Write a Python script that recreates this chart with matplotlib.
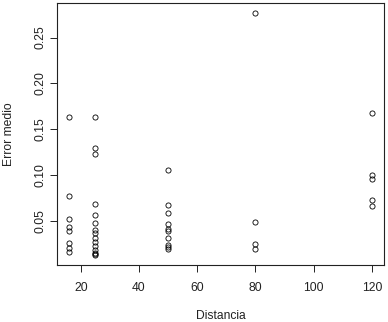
import matplotlib
matplotlib.use("Agg")
import matplotlib.pyplot as plt
import numpy as np

plt.rcParams['font.family'] = ['Liberation Sans', 'DejaVu Sans']

# Data
dist_16 = [0.164, 0.078, 0.053, 0.044, 0.039, 0.026, 0.021, 0.017]
dist_25 = [0.163, 0.130, 0.123, 0.069, 0.057, 0.048, 0.041, 0.037, 0.032,
           0.028, 0.023, 0.019, 0.016, 0.014, 0.013]
dist_50 = [0.106, 0.068, 0.059, 0.047, 0.042, 0.039, 0.032, 0.024, 0.022, 0.020]
dist_80 = [0.277, 0.049, 0.025, 0.020]
dist_120 = [0.168, 0.100, 0.096, 0.073, 0.067]

groups = {16: dist_16, 25: dist_25, 50: dist_50, 80: dist_80, 120: dist_120}
x = np.concatenate([[d] * len(v) for d, v in groups.items()])
y = np.concatenate([v for v in groups.values()])

xticks = [20, 40, 60, 80, 100, 120]
yticks = [0.05, 0.10, 0.15, 0.20, 0.25]
ytick_labels = ["0.05", "0.10", "0.15", "0.20", "0.25"]

fig = plt.figure(figsize=(3.88, 3.22), dpi=100)
ax = fig.add_axes([57 / 388, (322 - 265) / 322, (384 - 57) / 388, 262 / 322])

ax.plot(x, y, linestyle='none', marker='o', markersize=3.7,
        markerfacecolor='none', markeredgecolor='black', markeredgewidth=0.6)

xr = x.max() - x.min()
yr = y.max() - y.min()
ax.set_xlim(x.min() - 0.04 * xr, x.max() + 0.04 * xr)
ax.set_ylim(y.min() - 0.04 * yr, y.max() + 0.04 * yr)

ax.set_xticks(xticks)
ax.set_xticklabels([str(t) for t in xticks])
ax.set_yticks(yticks)
ax.set_yticklabels(ytick_labels, rotation=90, va='center')

ax.tick_params(axis='both', direction='out', length=5, width=0.7,
               labelsize=8.7, colors='#222222')
ax.tick_params(axis='x', pad=7)
ax.tick_params(axis='y', pad=2.5)

for s in ax.spines.values():
    s.set_linewidth(0.8)
    s.set_color('#222222')

fig.text((57 + 384) / 2 / 388, 1 - 316 / 322, "Distancia", ha='center', va='center',
         fontsize=8.7, color='#222222')
fig.text(9 / 388, 1 - 134 / 322, "Error medio", ha='center', va='center',
         rotation=90, fontsize=8.7, color='#222222')

fig.savefig("out.png", dpi=100)
